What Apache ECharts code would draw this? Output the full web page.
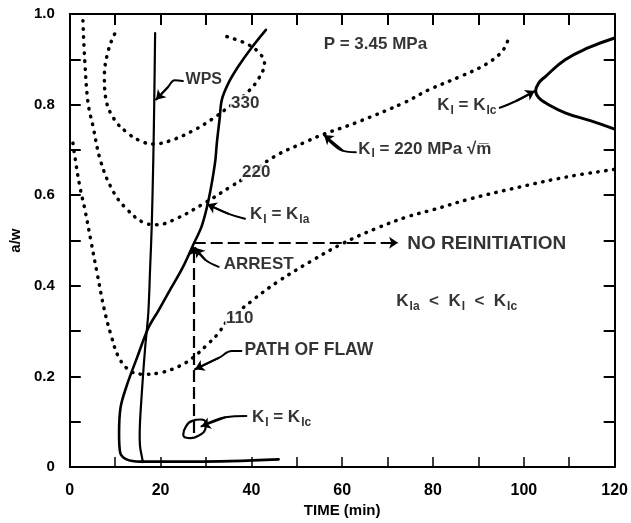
<!DOCTYPE html>
<html>
<head>
<meta charset="utf-8">
<script src="https://cdn.jsdelivr.net/npm/echarts@6/dist/echarts.min.js"></script>
<style>
  html, body { margin: 0; padding: 0; background: #fff; }
  #chart { width: 631px; height: 523px; }
</style>
</head>
<body>
<div id="chart"></div>
<script>
// ---- data (time in min, a/w) ----
const xTickLabels = ['0', '20', '40', '60', '80', '100', '120'];
const yTickLabels = ['0', '0.2', '0.4', '0.6', '0.8', '1.0'];

const curve110 = [[0.7,0.715],[1.2,0.68],[2.2,0.62],[3.3,0.57],[4.7,0.497],[6.1,0.424],[7.6,0.348],[9.07,0.292],[10.86,0.241],[13.38,0.212],[16.26,0.205],[19.86,0.208],[24.17,0.223],[27.05,0.241],[29.93,0.267],[32.8,0.296],[34.3,0.318],[40.0,0.366],[45.8,0.409],[52.9,0.453],[60.0,0.493],[67.3,0.526],[74.5,0.553],[80.0,0.568],[88.2,0.592],[99,0.618],[109.8,0.641],[120,0.657]];
const curve220 = [[2.9,0.985],[3.3,0.899],[4.03,0.804],[5.1,0.753],[6.9,0.672],[9.7,0.606],[12.6,0.569],[16.2,0.54],[19.1,0.535],[23.4,0.548],[29.9,0.584],[35.6,0.62],[38.5,0.638],[45,0.685],[52,0.718],[56,0.735],[63,0.76],[73.8,0.805],[78.9,0.832],[86,0.862],[91.8,0.89],[95.4,0.92],[96.8,0.952]];
const curve330 = [[34.6,0.95],[38.57,0.936],[41.44,0.917],[42.88,0.892],[41.44,0.855],[38.57,0.822],[34.25,0.789],[31.37,0.768],[27.05,0.742],[22.0,0.72],[18.42,0.713],[15.54,0.72],[12.66,0.738],[9.78,0.768],[7.99,0.811],[7.63,0.863],[8.35,0.914],[9.78,0.954],[10.5,0.962]];
const wpsLine = [[18.8,0.958],[18.6,0.8],[18.4,0.68],[18.06,0.534],[17.7,0.439],[17.3,0.34],[16.6,0.263],[15.9,0.168],[15.4,0.073],[15.5,0.044],[15.9,0.022],[16.1,0.011]];
const flawPath = [[43.2,0.965],[40.0,0.925],[37.1,0.884],[34.97,0.848],[33.5,0.811],[33.0,0.768],[32.4,0.716],[32.0,0.672],[30.6,0.591],[29.1,0.533],[27.3,0.493],[24.8,0.439],[21.9,0.388],[19.5,0.345],[17.3,0.307],[14.8,0.241],[12.66,0.183],[11.2,0.132],[10.86,0.073],[11.1,0.032],[12.5,0.017],[15.5,0.012],[27.5,0.012],[46,0.017]];
const kIcRight = [[120,0.947],[114.1,0.925],[109.1,0.899],[104.75,0.862],[103.3,0.848],[102.6,0.83],[103.3,0.815],[104.75,0.804],[109.1,0.782],[114.8,0.764],[120,0.746]];
const kIcSmall = [[25.0,0.072],[25.6,0.09],[27.0,0.102],[28.8,0.105],[30.0,0.097],[29.8,0.082],[28.5,0.07],[26.6,0.064],[25.3,0.066],[25.0,0.072]];
const arrestHoriz = [[27.3,0.495],[72.3,0.495]];
const arrestVert = [[27.3,0.075],[27.3,0.487]];

const leaderWPS = [[24.9,0.852],[23.1,0.854],[21.65,0.839],[19.0,0.811]];
const leaderKIa = [[38.6,0.548],[35.0,0.559],[30.3,0.58]];
const leaderArrest = [[32.8,0.442],[29.9,0.457],[27.6,0.484]];
const leader220 = [[63.0,0.695],[60.2,0.698],[56.0,0.733]];
const leaderKIcUpper = [[94.7,0.793],[98.3,0.808],[102.4,0.83]];
const leaderPath = [[37.8,0.256],[35.7,0.256],[32.8,0.241],[27.6,0.216]];
const leaderKIcLower = [[38.9,0.113],[34.25,0.11],[29.0,0.09]];

const annotationTexts = [
  '{n|P = 3.45 MPa}',
  '{m|WPS}',
  '{d|330}',
  '{d|220}',
  '{n|K}{s|I}{n| = 220 MPa √m\u0305}',
  '{n|K}{s|I}{n| = K}{s|Ic}',
  '{n|K}{s|I}{n| = K}{s|Ia}',
  '{n|ARREST}',
  '{w|NO REINITIATION}',
  '{d|110}',
  '{n|K}{s|Ia}{n|  <  K}{s|I}{n|  <  K}{s|Ic}',
  '{p|PATH OF FLAW}',
  '{n|K}{s|I}{n| = K}{s|Ic}'
];
const annotationAnchors = [
  [55.8,0.934],[25.4,0.855],[35.2,0.803],[37.6,0.651],[63.4,0.702],[80.8,0.798],
  [39.6,0.557],[33.8,0.447],[74.2,0.493],[34.1,0.329],[71.8,0.366],[38.4,0.257],[40.0,0.11]
];

// ---- chart ----
const FONT = 'Liberation Sans';
const INK = '#000';
const chart = echarts.init(document.getElementById('chart'), null, {renderer: 'canvas'});

function curve(data, opts) {
  return Object.assign({
    type: 'line', data: data, showSymbol: false, symbol: 'none', silent: true,
    xAxisIndex: 0, yAxisIndex: 0, animation: false, z: 3
  }, opts);
}
const dotted = {color: INK, width: 3.5, type: [0.5, 7.5], cap: 'round'};
const solid = (w) => ({color: INK, width: w, cap: 'round', join: 'round'});

const leaders = [leaderWPS, leaderKIa, leaderArrest, leader220, leaderKIcUpper, leaderPath, leaderKIcLower];

const series = [
  curve(curve110, {smooth: 0.4, lineStyle: dotted}),
  curve(curve220, {smooth: 0.4, lineStyle: dotted}),
  curve(curve330, {smooth: 0.4, lineStyle: dotted}),
  curve(wpsLine, {smooth: 0.3, lineStyle: solid(2.2)}),
  curve(flawPath, {smooth: 0.35, lineStyle: solid(2.6)}),
  curve(kIcRight, {smooth: 0.45, lineStyle: solid(3)}),
  curve(kIcSmall, {smooth: 0.5, lineStyle: solid(2.2)})
];
leaders.forEach(l => series.push(curve(l, {smooth: 0.4, lineStyle: solid(2)})));
series.push({
  type: 'lines', coordinateSystem: 'cartesian2d', silent: true, animation: false, z: 4,
  symbol: ['none', 'arrow'], symbolSize: 9,
  lineStyle: {color: INK, width: 2, opacity: 1},
  data: leaders.map(l => ({coords: [l[l.length - 2], l[l.length - 1]]}))
});
series.push({
  type: 'lines', coordinateSystem: 'cartesian2d', silent: true, animation: false, z: 4,
  symbol: ['none', 'arrow'], symbolSize: 9,
  lineStyle: {color: INK, width: 2.2, opacity: 1, type: [12, 5]},
  data: [{coords: arrestHoriz}, {coords: arrestVert}]
});
const txt = (size, extra) => Object.assign({fontFamily: FONT, fontSize: size, fontWeight: 'bold', color: INK, lineHeight: 22}, extra || {});
series.push({
  type: 'scatter', silent: true, animation: false, symbolSize: 1,
  itemStyle: {color: 'rgba(0,0,0,0)'}, z: 6,
  data: annotationAnchors.map((p, i) => ({
    value: p,
    label: {formatter: annotationTexts[i]}
  })),
  label: {
    show: true, position: 'right', distance: 0,
    rich: {
      n: txt(17),
      m: txt(16),
      p: txt(17.5),
      w: txt(19),
      d: txt(17, {lineHeight: 14, backgroundColor: '#fff', padding: [0, 1]}),
      s: txt(12, {lineHeight: 12, padding: [10, 0, 0, 1]})
    }
  }
});

const axisLine = {show: true, onZero: false, lineStyle: {color: INK, width: 2}};
chart.setOption({
  animation: false,
  backgroundColor: '#fff',
  grid: {left: 68, right: 7, top: 14, bottom: 53, containLabel: false},
  xAxis: [
    {
      type: 'value', position: 'bottom', min: 0, max: 120, interval: 10,
      name: 'TIME (min)', nameLocation: 'middle', nameGap: 33,
      nameTextStyle: {fontFamily: FONT, fontSize: 15, fontWeight: 'bold', color: INK},
      axisLine: axisLine,
      axisTick: {show: true, inside: true, length: 10, lineStyle: {color: INK, width: 1.5}},
      axisLabel: {
        fontFamily: FONT, fontSize: 16, fontWeight: 'bold', color: INK, margin: 15,
        formatter: v => (Math.round(v) % 20 === 0 ? xTickLabels[Math.round(v) / 20] : '')
      },
      splitLine: {show: false}
    },
    {
      type: 'value', position: 'top', min: 0, max: 120, interval: 10,
      axisLine: axisLine,
      axisTick: {show: true, inside: true, length: 11, lineStyle: {color: INK, width: 2}},
      axisLabel: {show: false}, splitLine: {show: false}
    }
  ],
  yAxis: [
    {
      type: 'value', position: 'left', min: 0, max: 1, interval: 0.1,
      name: 'a/w', nameLocation: 'middle', nameGap: 46, nameRotate: 90,
      nameTextStyle: {fontFamily: FONT, fontSize: 15, fontWeight: 'bold', color: INK},
      axisLine: axisLine,
      axisTick: {show: true, inside: true, length: 11, lineStyle: {color: INK, width: 2}},
      axisLabel: {
        fontFamily: FONT, fontSize: 15, fontWeight: 'bold', color: INK, margin: 15,
        formatter: v => { const k = Math.round(v * 10); return k % 2 === 0 ? yTickLabels[k / 2] : ''; }
      },
      splitLine: {show: false}
    },
    {
      type: 'value', position: 'right', min: 0, max: 1, interval: 0.1,
      axisLine: axisLine,
      axisTick: {show: true, inside: true, length: 11, lineStyle: {color: INK, width: 2}},
      axisLabel: {show: false}, splitLine: {show: false}
    }
  ],
  series: series
});
</script>
</body>
</html>
